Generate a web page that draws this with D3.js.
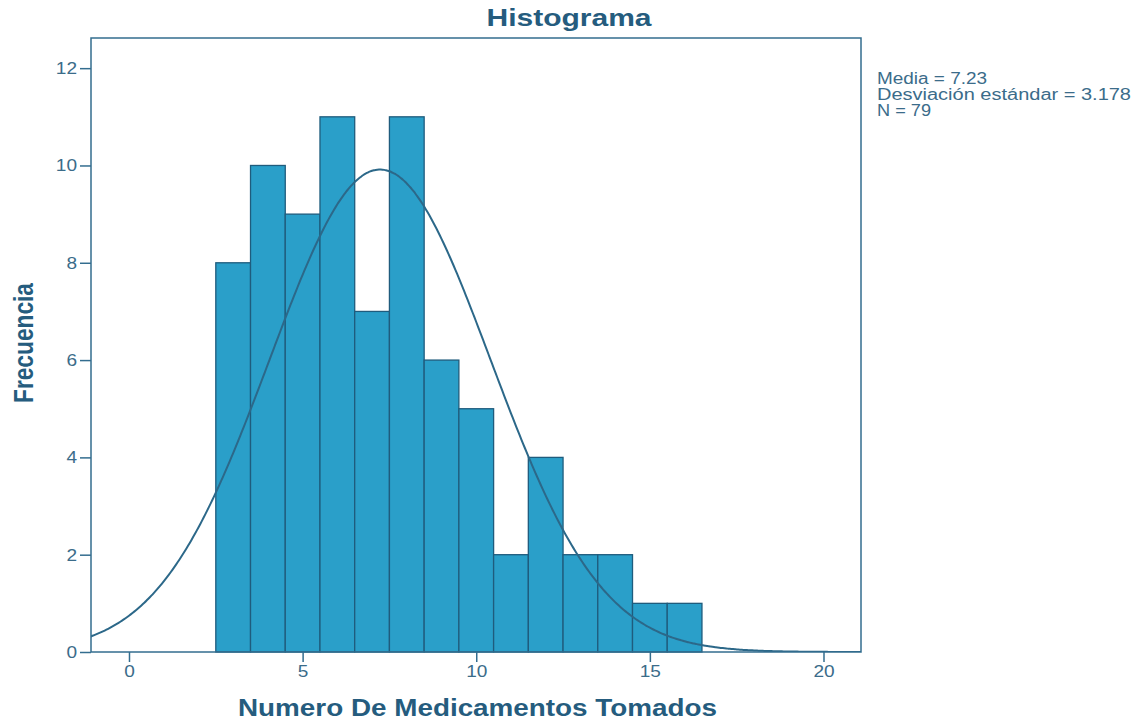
<!DOCTYPE html>
<html><head><meta charset="utf-8">
<script src="https://cdn.jsdelivr.net/npm/d3@7/dist/d3.min.js"></script>
<style>body{margin:0;background:#fff}svg{display:block}</style>
</head><body>
<svg id="c" width="1138" height="721"></svg>
<script>
const binStarts = [2.5,3.5,4.5,5.5,6.5,7.5,8.5,9.5,10.5,11.5,12.5,13.5,14.5,15.5];
const binWidth = 1;
const frequencies = [8,10,9,11,7,11,6,5,2,4,2,2,1,1];
const xTicks = [0,5,10,15,20];
const yTicks = [0,2,4,6,8,10,12];
const stats = {mean:7.23, sd:3.178, n:79};
const legendLines = ["Media = 7.23","Desviación estándar = 3.178","N = 79"];

const svg = d3.select("#c");
const L=91, R=861, T=38, B=652;
const x = d3.scaleLinear().domain([-1.094,21.08]).range([L,R]);
const y = d3.scaleLinear().domain([0,12.62]).range([B,T]);
const axisCol = "#336d8f", textCol="#3b6c8a", titleCol="#255c7e";
const FF = "Liberation Sans, Arial, sans-serif";

function stretch(sel, k){
  sel.each(function(){ const w=this.getComputedTextLength(); d3.select(this).attr("textLength",w*k).attr("lengthAdjust","spacingAndGlyphs"); });
}

svg.append("defs").append("clipPath").attr("id","pc").append("rect")
  .attr("x",L).attr("y",T).attr("width",R-L).attr("height",B-T);

svg.append("g").selectAll("rect").data(binStarts).join("rect")
  .attr("x",d=>x(d)).attr("width",d=>x(d+binWidth)-x(d))
  .attr("y",(d,i)=>y(frequencies[i])).attr("height",(d,i)=>y(0)-y(frequencies[i]))
  .attr("fill","#2a9fc9").attr("stroke","#1f5c7d").attr("stroke-width",1.3);

const pdf = v => stats.n*binWidth/(stats.sd*Math.sqrt(2*Math.PI))*Math.exp(-0.5*((v-stats.mean)/stats.sd)**2);
const xs = d3.range(-1.2,21.2,0.05);
svg.append("path").datum(xs).attr("clip-path","url(#pc)")
  .attr("d",d3.line().x(d=>x(d)).y(d=>y(pdf(d))).curve(d3.curveBasis))
  .attr("fill","none").attr("stroke","#2c6889").attr("stroke-width",2);

svg.append("rect").attr("x",L).attr("y",T).attr("width",R-L).attr("height",B-T)
  .attr("fill","none").attr("stroke",axisCol).attr("stroke-width",1.5);

const ax = svg.append("g").attr("transform",`translate(0,${B})`)
  .call(d3.axisBottom(x).tickValues(xTicks).tickSize(10).tickSizeOuter(0).tickPadding(3));
const ay = svg.append("g").attr("transform",`translate(${L},0)`)
  .call(d3.axisLeft(y).tickValues(yTicks).tickSize(11).tickSizeOuter(0).tickPadding(3));
[ax,ay].forEach(g=>{
  g.select(".domain").remove();
  g.selectAll("line").attr("stroke",axisCol).attr("stroke-width",1.5);
  g.selectAll("text").attr("fill",textCol).style("font-family",FF).style("font-size","17px");
  stretch(g.selectAll("text"),1.12);
});

svg.append("text").attr("x",569).attr("y",26).attr("text-anchor","middle")
  .attr("fill",titleCol).style("font-family",FF)
  .style("font-weight","bold").style("font-size","24px")
  .attr("textLength",165).attr("lengthAdjust","spacingAndGlyphs").text("Histograma");
svg.append("text").attr("x",477.5).attr("y",716).attr("text-anchor","middle")
  .attr("fill",titleCol).style("font-family",FF)
  .style("font-weight","bold").style("font-size","23px")
  .attr("textLength",479).attr("lengthAdjust","spacingAndGlyphs").text("Numero De Medicamentos Tomados");
svg.append("text").attr("transform","translate(33,343) rotate(-90)").attr("text-anchor","middle")
  .attr("fill",titleCol).style("font-family",FF)
  .style("font-weight","bold").style("font-size","27px")
  .attr("textLength",120).attr("lengthAdjust","spacingAndGlyphs").text("Frecuencia");

const legendW = [110,254,54];
svg.append("g").selectAll("text").data(legendLines).join("text")
  .attr("x",877).attr("y",(d,i)=>84+i*16)
  .attr("fill",textCol).style("font-family",FF).style("font-size","16px")
  .attr("textLength",(d,i)=>legendW[i]).attr("lengthAdjust","spacingAndGlyphs")
  .text(d=>d);
</script>
</body></html>
